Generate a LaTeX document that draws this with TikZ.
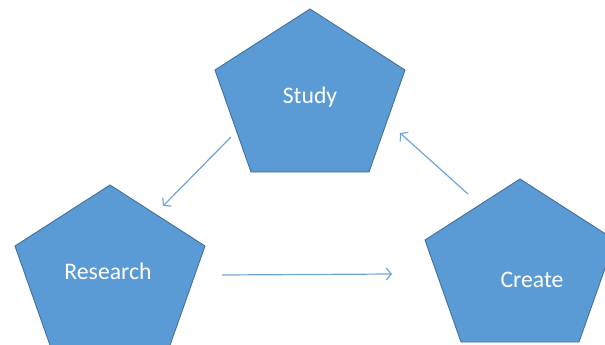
\documentclass[tikz,border=0pt]{standalone}
\usepackage{fontspec}
\setmainfont{Carlito}
\usetikzlibrary{arrows.meta}
\definecolor{pfill}{HTML}{5B9BD5}
\definecolor{pline}{HTML}{41719C}
\definecolor{aline}{HTML}{6FA5DA}
\tikzset{
  pentashape/.style={fill=pfill, draw=pline, line width=0.9pt, line join=miter},
  lbl/.style={text=white, font=\fontsize{23.7}{28}\selectfont, inner sep=0pt},
  conn/.style={draw=aline, line width=1.2pt, -{Straight Barb[length=5pt,width=12pt,line width=1.2pt]}},
  pics/pentabox/.style={code={
    \path[pentashape] (0,0) -- (95,61) -- (59,163) -- (-59,163) -- (-95,61) -- cycle;
  }}
}
\begin{document}
\begin{tikzpicture}[x=1pt,y=-1pt]
\useasboundingbox (0,0) rectangle (605,345);
\pic at (310,9) {pentabox};
\pic at (110,185) {pentabox};
\pic at (520,179) {pentabox};
\node[lbl] (study) at (310,97) {Study};
\node[lbl] (research) at (108,271) {Research};
\node[lbl] (create) at (532,280) {Create};
\coordinate (s1) at (231,137);
\coordinate (r1) at (163,206);
\coordinate (r2) at (222,275);
\coordinate (c1) at (392,274);
\coordinate (c2) at (468,194);
\coordinate (s2) at (400,133);
\draw[conn] (s1) -- (r1);
\draw[conn] (r2) -- (c1);
\draw[conn] (c2) -- (s2);
\end{tikzpicture}
\end{document}
